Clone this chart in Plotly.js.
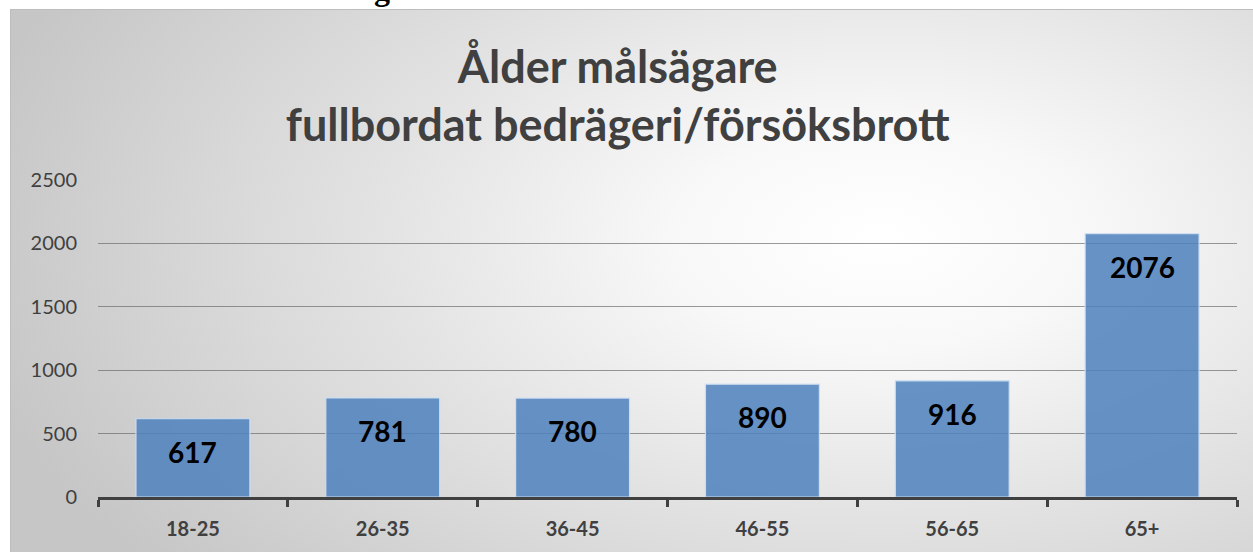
<!DOCTYPE html>
<html>
<head>
<meta charset="utf-8">
<script src="https://cdn.plot.ly/plotly-3.0.1.min.js"></script>
<style>
  html, body { margin: 0; padding: 0; background: #ffffff; width: 1253px; height: 552px; overflow: hidden; }
  #bg { position: absolute; left: 10px; top: 9px; width: 1243px; height: 543px;
        border-top: 1px solid #bdbdbd; border-left: 1px solid #bdbdbd;
        background: radial-gradient(ellipse 75% 95% at 70% 42%, #ffffff 0%, #f8f8f8 22%, #e2e2e2 55%, #c6c6c6 100%); }
  #cut { position: absolute; left: 360px; top: 0px; width: 60px; height: 9px; overflow: hidden; }
  #cut span { position: absolute; left: 14px; top: -27px; font-family: "Liberation Serif", serif; font-weight: bold; font-size: 32px; color: #000; line-height: 32px; }
  #chart { position: absolute; left: 0; top: 0; width: 1253px; height: 552px; }
</style>
</head>
<body>
<div id="bg"></div>
<div id="cut"><span>g</span></div>
<div id="chart"></div>
<script>
const categories = ["18-25", "26-35", "36-45", "46-55", "56-65", "65+"];
const values = [617, 781, 780, 890, 916, 2076];
const yTicks = [0, 500, 1000, 1500, 2000, 2500];
const titleLines = ["Ålder målsägare", "fullbordat bedrägeri/försöksbrott"];

const font = "Lato, 'Open Sans', sans-serif";

const trace = {
  type: "bar",
  x: categories,
  y: values,
  marker: { color: "rgba(79,129,189,0.86)", line: { color: "rgba(205,222,242,0.95)", width: 1.2 } },
  hoverinfo: "skip"
};

const annotations = categories.map((c, i) => ({
  x: c, y: values[i], xref: "x", yref: "y",
  text: String(values[i]), showarrow: false,
  yshift: -33,
  font: { family: font, size: 28, color: "#000000", weight: "bold" }
}));

const layout = {
  width: 1253, height: 552,
  paper_bgcolor: "rgba(0,0,0,0)",
  plot_bgcolor: "rgba(0,0,0,0)",
  margin: { l: 98, r: 16, t: 180, b: 55 },
  bargap: 0.4,
  showlegend: false,
  title: {
    text: titleLines.join("<br>"),
    x: 0.493, xanchor: "center", xref: "container",
    y: 0.85, yanchor: "top", yref: "container",
    font: { family: font, size: 45, color: "#404040", weight: "bold" }
  },
  xaxis: {
    type: "category",
    tickson: "boundaries",
    ticks: "outside", ticklen: 7, tickwidth: 3, tickcolor: "#404040",
    showline: true, linecolor: "#404040", linewidth: 3,
    showgrid: false, zeroline: false,
    ticklabelstandoff: 12,
    tickfont: { family: font, size: 20, color: "#404040", weight: "bold" }
  },
  yaxis: {
    range: [0, 2500],
    tickvals: yTicks, ticktext: yTicks.map(String),
    showgrid: true, gridcolor: "rgba(100,100,100,0.65)", gridwidth: 1.3,
    zeroline: false, showline: false, ticks: "",
    ticklabelstandoff: 20,
    tickfont: { family: font, size: 20, color: "#404040" }
  },
  annotations: annotations
};

Plotly.newPlot("chart", [trace], layout, { displayModeBar: false, staticPlot: true });
</script>
</body>
</html>
